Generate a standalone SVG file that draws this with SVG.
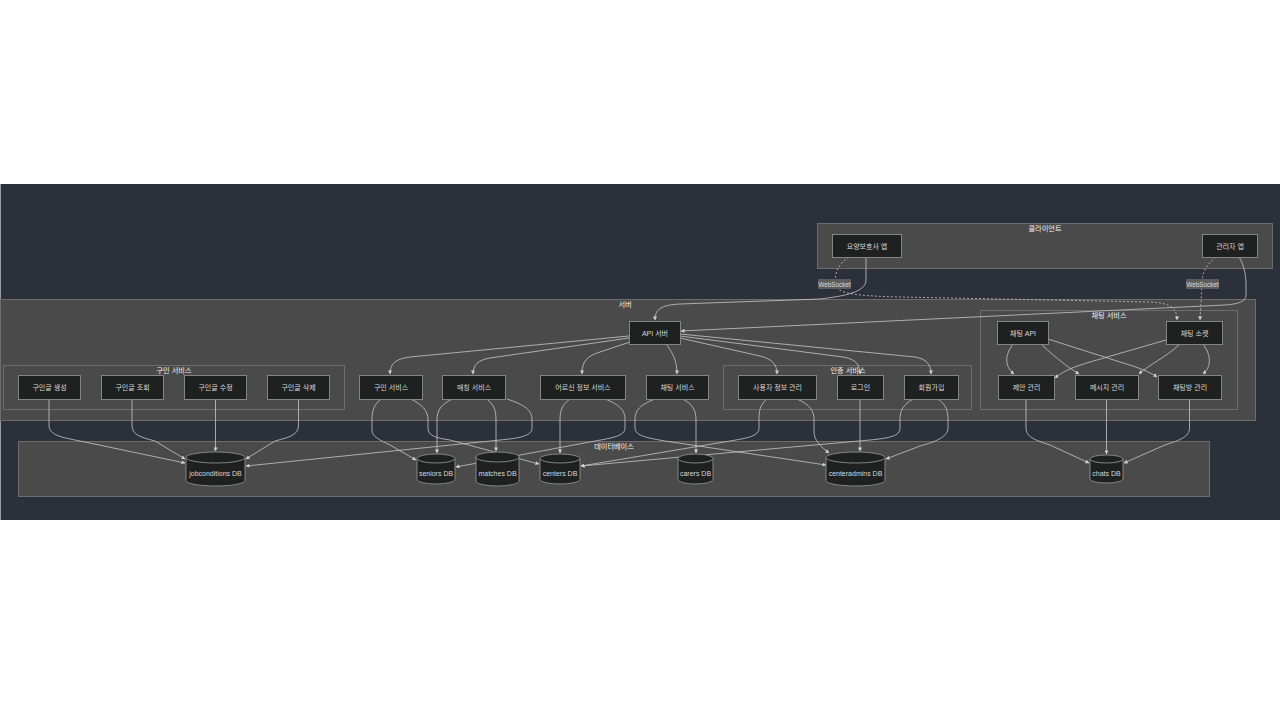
<svg xmlns="http://www.w3.org/2000/svg" width="1280" height="720" viewBox="0 0 1280 720">
<defs>
<marker id="ah" viewBox="0 0 10 10" refX="9" refY="5" markerWidth="4" markerHeight="4" markerUnits="userSpaceOnUse" orient="auto">
<path d="M0,0 L10,5 L0,10 z" fill="#d0d0d0"/>
</marker>
<style>
.cl{fill:#4a4a4a;stroke:#6c6c6c;stroke-width:1}
.ct{font-family:"Liberation Sans","Noto Sans CJK KR",sans-serif;font-size:7.2px;fill:#f2f2f2;text-anchor:middle}
.nd rect{fill:#1f2020;stroke:#858585;stroke-width:1}
.nd text,.db text{font-family:"Liberation Sans","Noto Sans CJK KR",sans-serif;font-size:7px;fill:#d8d8d8;text-anchor:middle;dominant-baseline:central}
.db path{fill:#1f2020;stroke:#858585;stroke-width:1}
.e{fill:none;stroke:#c8c8c8;stroke-width:0.8;marker-end:url(#ah)}
.d{stroke-dasharray:2 2}
.lb rect{fill:#5c5c5c}
.lb text{font-family:"Liberation Sans",sans-serif;font-size:6.4px;fill:#dcdcdc;text-anchor:middle;dominant-baseline:central}
</style>
</defs>
<rect x="0" y="0" width="1280" height="720" fill="#ffffff"/>
<rect x="0" y="184" width="1280" height="336" fill="#2c303b"/>
<line x1="0.5" y1="184" x2="0.5" y2="520" stroke="#9a9a9a"/>

<g id="clusters">
<rect class="cl" x="817.5" y="223.5" width="455" height="45"/>
<text class="ct" x="1045" y="231">클라이언트</text>
<rect class="cl" x="0.5" y="299.5" width="1255" height="121"/>
<text class="ct" x="625" y="307">서버</text>
<rect class="cl" x="3.5" y="365.5" width="341" height="44"/>
<text class="ct" x="174" y="373">구인 서비스</text>
<rect class="cl" x="723.5" y="365.5" width="248" height="44"/>
<text class="ct" x="848" y="373">인증 서비스</text>
<rect class="cl" x="980.5" y="310.5" width="257" height="99"/>
<text class="ct" x="1109" y="318">채팅 서비스</text>
<rect class="cl" x="18.5" y="441.5" width="1191" height="55"/>
</g>

<g id="connectors">
<path class="e" d="M866,257 V280 C866,292 845,296 820,299 L680,304 C660,305 655,310 655,320"/>
<path class="e d" d="M849,257 C838,265 835,271 835,284 C835,294 860,296 900,297 L1150,302 C1172,303 1177,309 1177,320"/>
<path class="e" d="M1239,257 C1244,265 1246,275 1246,285 L1246,295 C1246,302 1238,304 1225,305 L681,331"/>
<path class="e d" d="M1216,257 C1206,265 1202,272 1202,284 L1200,320"/>

<path class="e" d="M629,336 L410,357 C395,359 390,364 390,374"/>
<path class="e" d="M629,338 L490,358 C478,360 473,365 473,374"/>
<path class="e" d="M630,342 L600,352 C588,356 582,360 582,374"/>
<path class="e" d="M666,344 C672,352 677,360 677,374"/>
<path class="e" d="M680,338 L760,356 C772,359 777,364 777,374"/>
<path class="e" d="M680,336 L843,357 C855,359 860,364 860,374"/>
<path class="e" d="M680,334 L915,357 C926,359 931,364 931,374"/>

<path class="e" d="M1013,344 C1005,355 1004,366 1014,374"/>
<path class="e" d="M1041,344 C1058,360 1068,367 1079,374"/>
<path class="e" d="M1048,339 L1120,362 C1140,368 1150,372 1157,377"/>
<path class="e" d="M1166,340 L1090,362 C1070,368 1062,372 1055,378"/>
<path class="e" d="M1180,344 C1165,358 1150,364 1139,374"/>
<path class="e" d="M1203,344 C1211,355 1212,366 1203,374"/>

<path class="e" d="M49,399 V425 C49,435 60,437 80,441 L185,463"/>
<path class="e" d="M132,399 V425 C132,435 140,437 155,441 L185,459"/>
<path class="e" d="M215.5,399 V451"/>
<path class="e" d="M298.5,399 V425 C298.5,435 290,437 275,441 L246,459"/>
<path class="e" d="M381,399 C374,405 372,410 372,420 V430 C372,437 380,440 390,445 L416,460"/>
<path class="e" d="M411,399 C422,405 428,410 428,420 V428 C428,436 436,438 450,440 L539,464"/>
<path class="e" d="M452,399 C441,405 437,410 437,420 V453"/>
<path class="e" d="M487,399 C494,405 496,410 496,420 V451"/>
<path class="e" d="M507,399 C525,405 532,410 532,420 V428 C532,436 520,438 500,440 L246,466"/>
<path class="e" d="M570,399 C562,405 560,410 560,420 V453"/>
<path class="e" d="M605,399 C620,405 625,410 625,420 V428 C625,436 612,438 595,441 L456,467"/>
<path class="e" d="M655,399 C640,405 635,410 635,420 V428 C635,436 648,438 665,441 L826,465"/>
<path class="e" d="M683,399 C693,405 696,410 696,420 V453"/>
<path class="e" d="M767,399 C760,405 759,410 759,420 V428 C759,436 748,438 730,441 L581,466"/>
<path class="e" d="M797,399 C810,405 814,410 814,420 V432 C814,440 821,447 829,453"/>
<path class="e" d="M860,399 V451"/>
<path class="e" d="M913,399 C903,405 900,410 900,420 V428 C900,436 890,438 870,440 L581,466"/>
<path class="e" d="M938,399 C946,405 948,410 948,420 V428 C948,437 935,442 920,446 L886,459"/>
<path class="e" d="M1026,399 V428 C1026,437 1035,440 1050,445 L1089,463"/>
<path class="e" d="M1106.5,399 V454"/>
<path class="e" d="M1189.5,399 V428 C1189.5,437 1180,440 1165,445 L1124,463"/>

<g class="lb"><rect x="818" y="279" width="33" height="10"/><text x="834.5" y="284">WebSocket</text></g>
<g class="lb"><rect x="1186" y="279" width="33" height="10"/><text x="1202.5" y="284">WebSocket</text></g>
</g>

<text class="ct" x="614" y="449">데이터베이스</text>

<g id="n-carer-app" class="nd"><rect x="832.5" y="234.5" width="69" height="23"/><text x="867" y="246">요양보호사 앱</text></g>
<g id="n-admin-app" class="nd"><rect x="1202.5" y="234.5" width="55" height="23"/><text x="1230" y="246">관리자 앱</text></g>
<g id="n-api" class="nd"><rect x="629.5" y="321.5" width="51" height="23"/><text x="655" y="333">API 서버</text></g>

<g id="n-job-create" class="nd"><rect x="18.5" y="375.5" width="62" height="24"/><text x="49.5" y="387.5">구인글 생성</text></g>
<g id="n-job-read" class="nd"><rect x="101.5" y="375.5" width="62" height="24"/><text x="132.5" y="387.5">구인글 조회</text></g>
<g id="n-job-update" class="nd"><rect x="184.5" y="375.5" width="62" height="24"/><text x="215.5" y="387.5">구인글 수정</text></g>
<g id="n-job-delete" class="nd"><rect x="267.5" y="375.5" width="62" height="24"/><text x="298.5" y="387.5">구인글 삭제</text></g>

<g id="n-job-svc" class="nd"><rect x="359.5" y="375.5" width="63" height="24"/><text x="391" y="387.5">구인 서비스</text></g>
<g id="n-match-svc" class="nd"><rect x="442.5" y="375.5" width="63" height="24"/><text x="474" y="387.5">매칭 서비스</text></g>
<g id="n-senior-svc" class="nd"><rect x="540.5" y="375.5" width="85" height="24"/><text x="583" y="387.5">어르신 정보 서비스</text></g>
<g id="n-chat-svc" class="nd"><rect x="646.5" y="375.5" width="62" height="24"/><text x="677.5" y="387.5">채팅 서비스</text></g>

<g id="n-user-info" class="nd"><rect x="738.5" y="375.5" width="78" height="24"/><text x="777.5" y="387.5">사용자 정보 관리</text></g>
<g id="n-login" class="nd"><rect x="837.5" y="375.5" width="46" height="24"/><text x="860.5" y="387.5">로그인</text></g>
<g id="n-signup" class="nd"><rect x="904.5" y="375.5" width="54" height="24"/><text x="931.5" y="387.5">회원가입</text></g>

<g id="n-chat-api" class="nd"><rect x="997.5" y="321.5" width="51" height="23"/><text x="1023" y="333">채팅 API</text></g>
<g id="n-chat-socket" class="nd"><rect x="1166.5" y="321.5" width="56" height="23"/><text x="1194.5" y="333">채팅 소켓</text></g>
<g id="n-proposal" class="nd"><rect x="998.5" y="375.5" width="56" height="24"/><text x="1026.5" y="387.5">제안 관리</text></g>
<g id="n-message" class="nd"><rect x="1075.5" y="375.5" width="63" height="24"/><text x="1107" y="387.5">메시지 관리</text></g>
<g id="n-room" class="nd"><rect x="1158.5" y="375.5" width="63" height="24"/><text x="1190" y="387.5">채팅방 관리</text></g>

<g id="db-jobconditions" class="db"><path d="M186,457.5 a29.5,5.5 0 0 0 59,0 a29.5,5.5 0 0 0 -59,0 l0,23 a29.5,5.5 0 0 0 59,0 l0,-23"/><text x="215.5" y="473">jobconditions DB</text></g>
<g id="db-seniors" class="db"><path d="M417,458.5 a19,4.5 0 0 0 38,0 a19,4.5 0 0 0 -38,0 l0,21 a19,4.5 0 0 0 38,0 l0,-21"/><text x="436" y="473">seniors DB</text></g>
<g id="db-matches" class="db"><path d="M476,457 a21.5,5 0 0 0 43,0 a21.5,5 0 0 0 -43,0 l0,24 a21.5,5 0 0 0 43,0 l0,-24"/><text x="497.5" y="473">matches DB</text></g>
<g id="db-centers" class="db"><path d="M540,458.5 a20,4.5 0 0 0 40,0 a20,4.5 0 0 0 -40,0 l0,21 a20,4.5 0 0 0 40,0 l0,-21"/><text x="560" y="473">centers DB</text></g>
<g id="db-carers" class="db"><path d="M678,458.5 a17.5,4.5 0 0 0 35,0 a17.5,4.5 0 0 0 -35,0 l0,21 a17.5,4.5 0 0 0 35,0 l0,-21"/><text x="695.5" y="473">carers DB</text></g>
<g id="db-centeradmins" class="db"><path d="M826,457.5 a29.5,5.5 0 0 0 59,0 a29.5,5.5 0 0 0 -59,0 l0,23 a29.5,5.5 0 0 0 59,0 l0,-23"/><text x="855.5" y="473">centeradmins DB</text></g>
<g id="db-chats" class="db"><path d="M1090,459 a16.5,4 0 0 0 33,0 a16.5,4 0 0 0 -33,0 l0,20 a16.5,4 0 0 0 33,0 l0,-20"/><text x="1106.5" y="473">chats DB</text></g>
</svg>
